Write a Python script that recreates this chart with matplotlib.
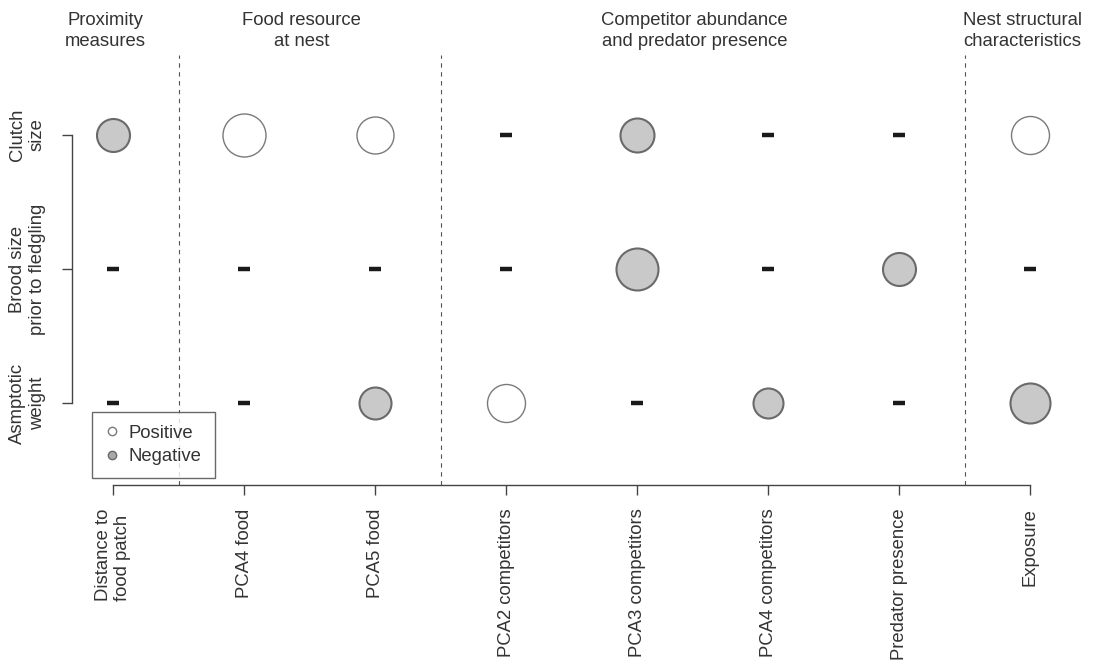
import numpy as np
import matplotlib
matplotlib.use("Agg")
import matplotlib.pyplot as plt
from matplotlib.lines import Line2D
from matplotlib.transforms import blended_transform_factory

plt.rcParams['font.family'] = ['Liberation Sans', 'DejaVu Sans']

# predictors on x, responses on y
predictors = ["Distance to\nfood patch", "PCA4 food", "PCA5 food", "PCA2 competitors",
              "PCA3 competitors", "PCA4 competitors", "Predator presence", "Exposure"]
responses = ["Clutch\nsize", "Brood size\nprior to fledgling", "Asmptotic\nweight"]
groups = ["Proximity\nmeasures", "Food resource\nat nest",
          "Competitor abundance\nand predator presence", "Nest structural\ncharacteristics"]
group_sizes = [1, 2, 4, 1]

# signed effect (circle size), 0 = not significant (dash)
clutch = [-33, 43, 37, 0, -34, 0, 0, 38]
brood = [0, 0, 0, 0, -42, 0, -33, 0]
weight = [0, 0, -32, 38, 0, -30, 0, -40]
effects = [clutch, brood, weight]

txt = '#333333'
fs = 13.3
grey_fill = '#c9c9c9'
grey_edge = '#6a6a6a'
white_edge = '#7a7a7a'

fig = plt.figure(figsize=(10.96, 6.69), dpi=100)
ax = fig.add_axes([72/1096, 1-485/669, (1090-72)/1096, (485-55)/669])

x = np.arange(1, len(predictors) + 1)
yrows = [3, 2, 1]

for row, yv in zip(effects, yrows):
    for xi, e in zip(x, row):
        if e == 0:
            ax.plot(xi, yv, marker='_', markersize=9, markeredgewidth=3.2,
                    color='#1a1a1a')
        elif e > 0:
            ax.scatter(xi, yv, s=(e*0.72)**2, facecolor='white',
                       edgecolor=white_edge, linewidth=1.0, zorder=3)
        else:
            ax.scatter(xi, yv, s=(-e*0.72)**2, facecolor=grey_fill,
                       edgecolor=grey_edge, linewidth=1.5, zorder=3)

# group separators and headers
bounds = np.cumsum(group_sizes)
for b in bounds[:-1]:
    ax.axvline(b + 0.5, color='#555555', linestyle=(0, (4, 4)), linewidth=0.8)
starts = np.concatenate([[0], bounds[:-1]])
trans = blended_transform_factory(ax.transData, fig.transFigure)
for g, s0, n in zip(groups, starts, group_sizes):
    cx = s0 + (n + 1) / 2 - 0.06
    ax.text(cx, 1 - 31/669, g, transform=trans, ha='center', va='center',
            fontsize=fs, color=txt, linespacing=1.25)

ax.set_xlim(0.687, 8.458)
ax.set_ylim(0.388, 3.597)

for sp in ['top', 'right']:
    ax.spines[sp].set_visible(False)
ax.spines['left'].set_bounds(1, 3)
ax.spines['bottom'].set_bounds(1, 8)
for sp in ['left', 'bottom']:
    ax.spines[sp].set_color('#444444')
    ax.spines[sp].set_linewidth(1.0)

ax.set_xticks(x)
ax.set_xticklabels(predictors, rotation=90, fontsize=fs, color=txt,
                   va='top', ha='center', multialignment='left')
ax.set_yticks(yrows)
ax.set_yticklabels(responses, rotation=90, fontsize=fs, color=txt,
                   va='center', ha='right', multialignment='center')
ax.tick_params(axis='x', length=7, width=1, color='#444444', pad=10)
ax.tick_params(axis='y', length=7, width=1, color='#444444', pad=12)

handles = [Line2D([], [], marker='o', linestyle='none', markersize=6,
                  markerfacecolor='white', markeredgecolor=white_edge, markeredgewidth=1),
           Line2D([], [], marker='o', linestyle='none', markersize=6,
                  markerfacecolor='#a8a8a8', markeredgecolor=grey_edge, markeredgewidth=1)]
leg = fig.legend(handles, ["Positive", "Negative"], loc='lower left',
                 bbox_to_anchor=(92/1096, 1-478/669), fontsize=fs, frameon=True,
                 fancybox=False, handlelength=0.8, handletextpad=0.5,
                 borderpad=0.7, labelspacing=0.35, borderaxespad=0)
leg.get_frame().set_edgecolor('#444444')
leg.get_frame().set_linewidth(1.0)
for t in leg.get_texts():
    t.set_color(txt)

fig.savefig("out.png", dpi=100)
